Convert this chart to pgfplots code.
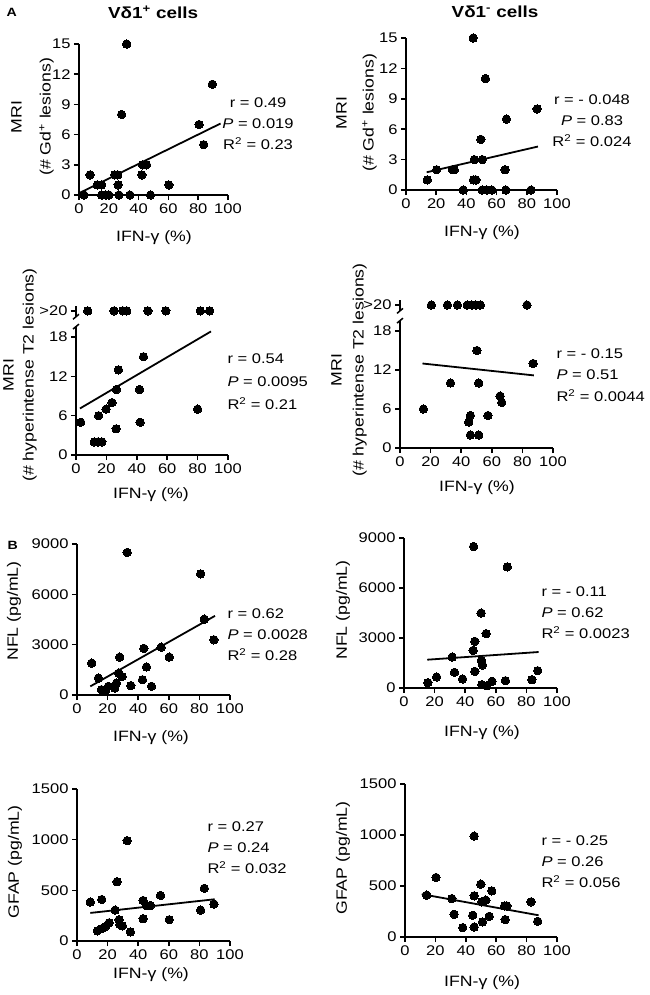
\documentclass[border=0pt]{standalone}
\usepackage{fontspec}
\setmainfont{Liberation Sans}[FakeStretch=1.18]
\usepackage{pgfplots}
\pgfplotsset{compat=1.18}
\pgfplotsset{gp/.style={
  scale only axis, anchor=south west,
  axis x line*=bottom, axis y line*=left,
  axis line style={line width=1.8pt, -},
  tick style={black, line width=1.6pt},
  tick align=outside, major tick length=5pt,
  xmin=0, xmax=100, ymin=0, xtick={0,20,...,100},
  clip=false,
  tick label style={font=\fontsize{14}{16}\selectfont},
  /pgf/number format/assume math mode=true,
  /pgf/number format/1000 sep={},
  scaled ticks=false,
  label style={font=\fontsize{15}{17}\selectfont},
  xlabel={IFN-γ (\%)},
  xlabel style={anchor=center},
  ylabel style={anchor=center, align=center},
 },
 dots/.style={only marks, mark=*, mark size=4.2pt, black, mark options={fill=black, draw=black, line width=0pt}},
 fit/.style={no marks, black, line width=1.8pt},
}
\begin{document}
\begin{tikzpicture}
\path[use as bounding box] (0,0) rectangle (649pt,-995pt);
% titles
\node[font=\bfseries\fontsize{12}{14}\selectfont, anchor=west] at (3pt,-12pt) {A};
\node[font=\bfseries\fontsize{16}{19}\selectfont] at (153pt,-12pt) {Vδ1\textsuperscript{+} cells};
\node[font=\bfseries\fontsize{16}{19}\selectfont] at (495pt,-12pt) {Vδ1\textsuperscript{-} cells};
\node[font=\bfseries\fontsize{12}{14}\selectfont, anchor=west] at (4pt,-545pt) {B};

% Panel 1
\begin{axis}[gp, at={(79pt,-195pt)}, width=149pt, height=151pt, ymax=15, ytick={0,3,...,15},
  ylabel={MRI\\(\# Gd\textsuperscript{+} lesions)},
  ylabel style={font=\fontsize{15}{29}\selectfont, at={(axis description cs:-0.312,0.517)}},
  xlabel style={at={(axis description cs:0.503,-0.285)}}]
\addplot[dots] coordinates {(32,15) (89.5,11) (28.6,8) (80.6,7) (83.7,5) (7.4,2) (24,2) (26,2) (42.6,3) (45.3,3) (42.2,2) (12.3,1) (15.2,1) (26.3,1) (60.3,1) (3.3,0) (15.2,0) (18,0) (20,0) (26.8,0) (34.2,0) (48,0)};
\addplot[fit] coordinates {(1,0.25) (95,7.1)};
\end{axis}
\node[align=center, font=\fontsize{14}{21}\selectfont] at (258pt,-124pt) {r = 0.49\\\textit{P} = 0.019\\R\textsuperscript{2} = 0.23};

% Panel 2
\begin{axis}[gp, at={(406pt,-190pt)}, width=151pt, height=152pt, ymax=15, ytick={0,3,...,15},
  ylabel={MRI\\(\# Gd\textsuperscript{+} lesions)},
  ylabel style={font=\fontsize{15}{27}\selectfont, at={(axis description cs:-0.328,0.507)}},
  xlabel style={at={(axis description cs:0.503,-0.283)}}]
\addplot[dots] coordinates {(44.5,15) (52.6,11) (86.8,8) (66.5,7) (49.6,5) (45.2,3) (50.5,3) (20.3,2) (30.7,2) (32,2) (65.6,2) (14.1,1) (44.7,1) (46.3,1) (37.9,0) (50.5,0) (53.5,0) (56.8,0) (66.1,0) (82.8,0)};
\addplot[fit] coordinates {(13.7,1.75) (87.4,4.29)};
\end{axis}
\node[align=center, font=\fontsize{14}{21}\selectfont] at (592pt,-121pt) {r = - 0.048\\\textit{P} = 0.83\\R\textsuperscript{2} = 0.024};

% Panel 3
\begin{axis}[gp, at={(76pt,-455pt)}, width=152pt, height=150.7pt, ymax=23,
  ytick={0,6,12,18,22}, yticklabels={0,6,12,18,>20},
  y axis line style={draw=none},
  ylabel={MRI\\(\# hyperintense T2 lesions)},
  ylabel style={font=\fontsize{15}{20}\selectfont, at={(axis description cs:-0.368,0.531)}},
  xlabel style={at={(axis description cs:0.493,-0.265)}}]
\addplot[dots] coordinates {(7.7,22) (25,22) (30.8,22) (33.4,22) (47.3,22) (59.1,22) (81.8,22) (87.9,22) (44.4,15) (27.9,13) (26.6,10) (41.8,10) (23.7,8) (19.8,7) (80,7) (3.1,5) (14.9,6) (42.2,5) (26.4,4) (12,2) (14.5,2) (17,2)};
\addplot[fit] coordinates {(2.6,7.1) (88.8,18.86)};
\draw[line width=1.8pt] (axis cs:0,0) -- (axis cs:0,19.6);
\draw[line width=1.8pt] (axis cs:0,21.1) -- (axis cs:0,22.8);
\draw[line width=1.5pt] ([xshift=-3pt,yshift=-2.5pt]axis cs:0,19.6) -- ([xshift=3pt,yshift=2.5pt]axis cs:0,19.6);
\draw[line width=1.5pt] ([xshift=-3pt,yshift=-2.5pt]axis cs:0,21.1) -- ([xshift=3pt,yshift=2.5pt]axis cs:0,21.1);
\end{axis}
\node[align=left, anchor=west, font=\fontsize{14}{23}\selectfont] at (224pt,-382pt) {r = 0.54\\\textit{P} = 0.0095\\R\textsuperscript{2} = 0.21};

% Panel 4
\begin{axis}[gp, at={(400pt,-448pt)}, width=153pt, height=149.5pt, ymax=23,
  ytick={0,6,12,18,22}, yticklabels={0,6,12,18,>20},
  y axis line style={draw=none},
  ylabel={MRI\\(\# hyperintense T2 lesions)},
  ylabel style={font=\fontsize{15}{22}\selectfont, at={(axis description cs:-0.333,0.522)}},
  xlabel style={at={(axis description cs:0.503,-0.268)}}]
\addplot[dots] coordinates {(20.5,22) (31,22) (37.5,22) (44,22) (47,22) (49.5,22) (52.5,22) (83,22) (50.3,15) (87,13) (33,10) (51.4,10) (65.4,8) (66.5,7) (15.3,6) (46,5) (57.5,5) (44.9,4) (46,2) (51.4,2)};
\addplot[fit] coordinates {(14.7,13.0) (87.5,11.17)};
\draw[line width=1.8pt] (axis cs:0,0) -- (axis cs:0,19.6);
\draw[line width=1.8pt] (axis cs:0,21.1) -- (axis cs:0,22.8);
\draw[line width=1.5pt] ([xshift=-3pt,yshift=-2.5pt]axis cs:0,19.6) -- ([xshift=3pt,yshift=2.5pt]axis cs:0,19.6);
\draw[line width=1.5pt] ([xshift=-3pt,yshift=-2.5pt]axis cs:0,21.1) -- ([xshift=3pt,yshift=2.5pt]axis cs:0,21.1);
\end{axis}
\node[align=left, anchor=west, font=\fontsize{14}{21.5}\selectfont] at (553pt,-375pt) {r = - 0.15\\\textit{P} = 0.51\\R\textsuperscript{2} = 0.0044};

% Panel 5
\begin{axis}[gp, at={(77pt,-695pt)}, width=153pt, height=151pt, ymax=9000,
  ytick={0,3000,6000,9000},
  ylabel={NFL (pg/mL)},
  ylabel style={at={(axis description cs:-0.412,0.556)}},
  xlabel style={at={(axis description cs:0.484,-0.285)}}]
\addplot[dots] coordinates {(32.8,8500) (80.8,7220) (83.2,4520) (89.5,3290) (55,2850) (60.3,2260) (43.7,2780) (27.9,2260) (9.6,1900) (45.4,1670) (14,1010) (27.3,1300) (29.5,1100) (42.8,910) (48.7,520) (35.2,560) (25.8,710) (24.7,420) (16,320) (18.8,280) (20.5,520)};
\addplot[fit] coordinates {(8.7,515) (90.2,4718)};
\end{axis}
\node[align=left, anchor=west, font=\fontsize{14}{21}\selectfont] at (224pt,-635pt) {r = 0.62\\\textit{P} = 0.0028\\R\textsuperscript{2} = 0.28};

% Panel 6
\begin{axis}[gp, at={(404pt,-688pt)}, width=153pt, height=150pt, ymax=9000,
  ytick={0,3000,6000,9000},
  ylabel={NFL (pg/mL)},
  ylabel style={at={(axis description cs:-0.399,0.52)}},
  xlabel style={at={(axis description cs:0.51,-0.3)}}]
\addplot[dots] coordinates {(45.5,8490) (67.5,7270) (50.4,4500) (53.7,3260) (46.3,2800) (45.2,2260) (31.5,1860) (50.6,1660) (51.3,1380) (46.3,1000) (33,940) (21.3,660) (15.6,320) (38.3,540) (50.9,200) (54.2,140) (57.5,400) (66.3,440) (83.6,500) (87.4,1040)};
\addplot[fit] coordinates {(15.2,1698) (88,2160)};
\end{axis}
\node[align=left, anchor=west, font=\fontsize{14}{21}\selectfont] at (538pt,-613pt) {r = - 0.11\\\textit{P} = 0.62\\R\textsuperscript{2} = 0.0023};

% Panel 7
\begin{axis}[gp, at={(77pt,-941pt)}, width=153pt, height=152pt, ymax=1500,
  ytick={0,500,1000,1500},
  ylabel={GFAP (pg/mL)},
  ylabel style={at={(axis description cs:-0.405,0.52)}},
  xlabel style={at={(axis description cs:0.484,-0.224)}}]
\addplot[dots] coordinates {(32.8,990) (26.2,585) (83.2,520) (54.6,450) (8.7,385) (16.2,410) (43.2,400) (45.5,350) (48,350) (89.5,365) (80.8,305) (24.9,305) (43.2,220) (60.3,210) (27.5,210) (28,165) (29.7,150) (21,180) (18.8,145) (16.2,122) (13.3,100) (34.9,90)};
\addplot[fit] coordinates {(8.7,277) (90,412)};
\end{axis}
\node[align=left, anchor=west, font=\fontsize{14}{21}\selectfont] at (204pt,-848pt) {r = 0.27\\\textit{P} = 0.24\\R\textsuperscript{2} = 0.032};

% Panel 8
\begin{axis}[gp, at={(405pt,-937pt)}, width=152pt, height=153pt, ymax=1500,
  ytick={0,500,1000,1500},
  ylabel={GFAP (pg/mL)},
  ylabel style={at={(axis description cs:-0.408,0.516)}},
  xlabel style={at={(axis description cs:0.507,-0.30)}}]
\addplot[dots] coordinates {(45.5,990) (20.4,584) (49.9,518) (57.1,453) (14.3,410) (45.5,404) (30.8,377) (50.5,345) (53.2,361) (65.5,305) (67,305) (82.9,345) (32.3,223) (44.6,213) (55.4,203) (65.9,171) (51,148) (87.3,154) (45.5,98) (38,92)};
\addplot[fit] coordinates {(11,420) (87.9,213)};
\end{axis}
\node[align=left, anchor=west, font=\fontsize{14}{21}\selectfont] at (538pt,-862pt) {r = - 0.25\\\textit{P} = 0.26\\R\textsuperscript{2} = 0.056};
\end{tikzpicture}
\end{document}
